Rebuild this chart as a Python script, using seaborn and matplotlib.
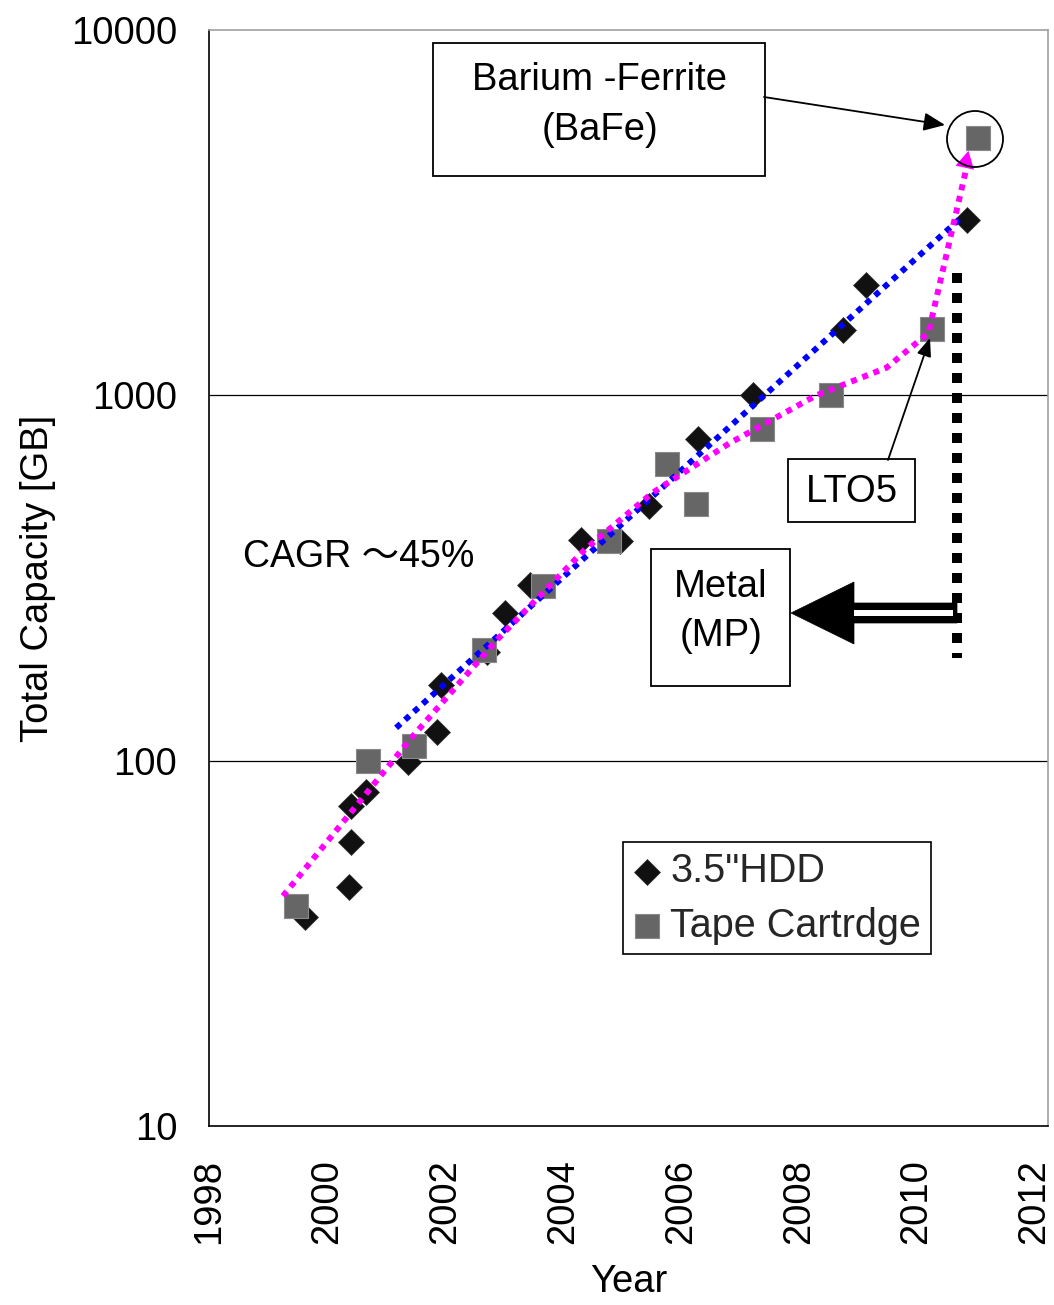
import matplotlib
matplotlib.use("Agg")
import matplotlib.pyplot as plt
from matplotlib.transforms import Affine2D
from matplotlib.patches import Rectangle, Circle, Polygon, FancyArrowPatch
from matplotlib.ticker import FixedLocator, FixedFormatter, NullLocator
import seaborn as sns
import pandas as pd

# ---------------- data ----------------
hdd_years = [1999.62, 2000.37, 2000.40, 2000.40, 2000.66, 2001.37, 2001.86, 2001.93,
             2002.72, 2003.01, 2003.44, 2004.31, 2004.96, 2005.46, 2006.30, 2007.22,
             2008.76, 2009.15, 2010.85]
hdd_gb = [37.3, 45, 60, 75, 82, 99, 120, 161, 198, 253, 303, 402, 400, 498, 759, 1000,
          1510, 2004, 3020]

tape_years = [1999.47, 2000.69, 2001.47, 2002.66, 2003.66, 2004.79, 2005.76, 2006.25,
              2007.38, 2008.55, 2010.27, 2011.05]
tape_gb = [40, 100, 110, 201, 300, 400, 649, 503, 809, 1000, 1517, 5060]

# CAGR trend of HDD (blue) and tape trend (magenta)
hdd_trend_years = [2001.17, 2010.77]
hdd_trend_gb = [123, 3077]
tape_trend_years = [1999.25, 2001.44, 2002.88, 2004.37, 2005.52, 2006.83, 2008.30,
                    2009.49, 2010.20, 2010.85]
tape_trend_gb = [42.6, 116, 214, 378, 541, 740, 1000, 1190, 1480, 4217]
tape_arrow_tip = (2010.88, 4670)

# boundary between metal-particle and BaFe generations
mp_boundary_year = 2010.69
mp_boundary_range = [2163, 191]

x_ticks = [1998, 2000, 2002, 2004, 2006, 2008, 2010, 2012]
y_ticks = [10, 100, 1000, 10000]
y_tick_labels = ["10", "100", "1000", "10000"]

hdd_label = '3.5"HDD'
tape_label = "Tape Cartrdge"

# ---------------- figure ----------------
W, H = 1054, 1305
sns.set_theme(style="white")
plt.rcParams["font.family"] = ["Liberation Sans", "Noto Sans CJK JP", "DejaVu Sans"]
FS = 27.5

fig = plt.figure(figsize=(W / 100, H / 100), dpi=100)
ax = fig.add_axes([209.3 / W, 1 - 1126 / H, (1048 - 209.3) / W, (1126 - 30) / H])
pix = Affine2D().scale(1 / W, -1 / H).translate(0, 1) + fig.transFigure

hdd_df = pd.DataFrame({"year": hdd_years, "gb": hdd_gb})
tape_df = pd.DataFrame({"year": tape_years, "gb": tape_gb})

sns.scatterplot(data=hdd_df, x="year", y="gb", marker="D", s=175, color="#111111",
                edgecolor="#333333", linewidth=0.5, ax=ax, zorder=2, label=hdd_label)
sns.scatterplot(data=tape_df, x="year", y="gb", marker="s", s=320, color="#666666",
                edgecolor="#8a8a8a", linewidth=0.8, ax=ax, zorder=3, label=tape_label)

ax.plot(hdd_trend_years, hdd_trend_gb, color="#0000FF", lw=4.3, linestyle=(0, (1, 1)),
        dash_capstyle="butt", zorder=4)
ax.plot(tape_trend_years, tape_trend_gb, color="#FF00FF", lw=4.3, linestyle=(0, (1, 1)),
        dash_capstyle="butt", zorder=5)
ax.annotate("", xy=tape_arrow_tip, xytext=(tape_trend_years[-2], tape_trend_gb[-2]),
            arrowprops=dict(arrowstyle="-|>,head_length=0.62,head_width=0.34",
                            color="#FF00FF", lw=0.01, mutation_scale=20,
                            shrinkA=0, shrinkB=0), zorder=6)

ax.plot([mp_boundary_year, mp_boundary_year], mp_boundary_range, color="black", lw=7.2,
        linestyle=(0, (1, 1)), dash_capstyle="butt", zorder=4)

# axes styling
ax.set_yscale("log")
ax.set_xlim(1998, 2012.23)
ax.set_ylim(10, 10000)
ax.xaxis.set_major_locator(FixedLocator(x_ticks))
ax.yaxis.set_major_locator(FixedLocator(y_ticks))
ax.yaxis.set_major_formatter(FixedFormatter(y_tick_labels))
ax.yaxis.set_minor_locator(NullLocator())
ax.tick_params(axis="x", direction="in", length=9.5, width=1, color="black",
               labelsize=FS, pad=24, labelrotation=90)
ax.tick_params(axis="y", direction="in", length=9.5, width=1, color="black",
               labelsize=FS, pad=23)
for t in ax.get_xticklabels():
    t.set_va("top")
for yv in [100, 1000]:
    ax.axhline(yv, color="black", lw=0.9, zorder=1)
for s in ["left", "bottom"]:
    ax.spines[s].set_color("black")
    ax.spines[s].set_linewidth(1.2)
for s in ["top", "right"]:
    ax.spines[s].set_color("#a0a0a0")
    ax.spines[s].set_linewidth(1.2)
ax.set_xlabel("Year", fontsize=FS, labelpad=14, color="black")
ax.set_ylabel("Total Capacity [GB]", fontsize=FS, labelpad=11, color="black")
ax.tick_params(colors="black")

leg = ax.legend(loc="upper left", bbox_to_anchor=(623 / W, 1 - 842 / H),
                bbox_transform=fig.transFigure, fontsize=28.5, frameon=True,
                fancybox=False, edgecolor="black", handlelength=0.7,
                handletextpad=0.25, borderpad=0.25, labelspacing=0.42,
                borderaxespad=0, framealpha=1)
leg.get_frame().set_linewidth(1.2)

# ---------------- annotations (pixel space) ----------------
def box(x0, y0, x1, y1):
    fig.add_artist(Rectangle((x0, y0), x1 - x0, y1 - y0, transform=pix,
                             facecolor="white", edgecolor="black", lw=1.3, zorder=10))

def label(x, y, s, size=FS):
    fig.text(x, y, s, transform=pix, ha="center", va="center", fontsize=size,
             color="black", zorder=11)

box(433, 43, 765, 176)
label(600, 80, "Barium -Ferrite")
label(600, 130, "(BaFe)")

box(788, 459, 915, 522)
label(852, 492, "LTO5")

box(651, 549, 790, 686)
label(721, 587, "Metal")
label(721, 636, "(MP)")

fig.text(243, 557, "CAGR ～45%", transform=pix, ha="left", va="center",
         fontsize=27, color="black")

fig.add_artist(Circle((975, 139), 28, transform=pix, fill=False, edgecolor="black",
                      lw=1.3, zorder=10))
fig.add_artist(FancyArrowPatch((764, 97), (945, 125), transform=pix,
                               arrowstyle="-|>,head_length=0.65,head_width=0.28",
                               mutation_scale=20, color="black", lw=1.3,
                               shrinkA=0, shrinkB=0, zorder=10))
fig.add_artist(FancyArrowPatch((888, 460), (930, 338), transform=pix,
                               arrowstyle="-|>,head_length=0.55,head_width=0.22",
                               mutation_scale=20, color="black", lw=1.3,
                               shrinkA=0, shrinkB=0, zorder=10))

fig.add_artist(Polygon([(791, 613), (854, 582), (854, 603), (957, 603), (957, 623),
                        (854, 623), (854, 644)], closed=True, transform=pix,
                       facecolor="black", edgecolor="black", lw=0.5, zorder=10))
fig.add_artist(Rectangle((854, 609.5), 99, 6.5, transform=pix, facecolor="white",
                         edgecolor="none", zorder=11))

fig.savefig("out.png", dpi=100)
